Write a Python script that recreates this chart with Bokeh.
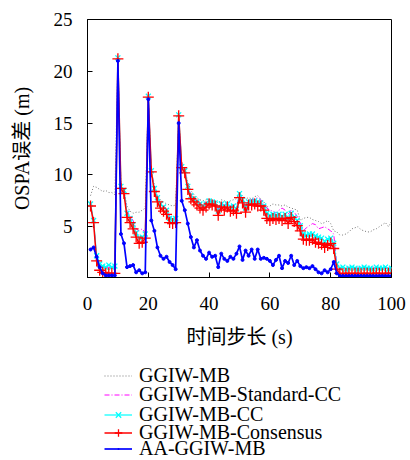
from bokeh.plotting import figure
from bokeh.layouts import column
from bokeh.models import Range1d, FixedTicker, Legend, LegendItem
from bokeh.embed import file_html
from bokeh.resources import INLINE

steps = list(range(1, 101))

ggiw_mb = [8.0, 8.9, 8.8, 8.6, 8.4, 8.5, 8.3, 8.3, 8.1, 21.0,
           8.7, 8.5, 7.0, 6.5, 6.3, 6.4, 6.4, 6.6, 6.8, 17.3,
           10.3, 9.0, 8.0, 7.6, 7.4, 7.2, 7.1, 7.0, 7.1, 15.5,
           10.9, 10.5, 9.3, 8.5, 8.1, 7.8, 7.6, 7.5, 7.6, 7.7,
           7.6, 7.5, 7.3, 7.6, 7.5, 7.4, 7.5, 7.6, 7.7, 8.3,
           8.0, 7.7, 7.8, 7.7, 7.9, 8.0, 7.7, 7.4, 6.9, 7.0,
           7.2, 7.1, 7.1, 7.0, 7.1, 6.9, 6.8, 6.7, 6.6, 5.6,
           5.8, 5.9, 5.9, 5.7, 5.6, 5.5, 5.3, 5.4, 5.6, 5.3,
           4.6, 4.5, 4.2, 4.2, 4.3, 4.5, 4.8, 4.9, 5.0, 4.7,
           4.6, 4.5, 4.5, 4.7, 4.8, 5.0, 5.2, 5.4, 5.0, 5.5]

standard_cc = [7.1, 5.5, 2.0, 1.2, 1.0, 1.0, 1.1, 1.0, 1.0, 21.2,
               8.8, 8.4, 6.5, 6.0, 5.6, 4.8, 4.6, 4.8, 4.4, 17.5,
               10.4, 8.8, 7.9, 7.3, 7.0, 6.7, 6.0, 5.8, 5.8, 15.7,
               10.9, 10.5, 9.0, 8.1, 7.8, 7.5, 7.3, 7.1, 7.3, 7.6,
               7.5, 7.4, 6.7, 7.3, 7.1, 7.3, 7.0, 7.1, 6.9, 8.1,
               7.7, 7.0, 7.5, 7.6, 7.7, 7.8, 7.6, 7.2, 6.8, 6.6,
               6.5, 6.3, 6.6, 6.8, 6.6, 6.2, 6.6, 6.4, 6.0, 5.4,
               4.6, 4.9, 5.1, 5.3, 5.2, 4.8, 4.9, 5.0, 4.8, 4.6,
               4.3, 1.4, 1.0, 1.0, 1.0, 1.1, 1.0, 1.0, 1.0, 1.1,
               1.0, 1.0, 1.0, 1.1, 1.0, 1.0, 1.0, 1.1, 1.0, 1.0]

cc = [7.2, 5.6, 2.2, 1.4, 1.2, 1.1, 1.3, 1.1, 1.2, 21.3,
      8.9, 8.5, 6.3, 5.8, 5.2, 4.4, 3.9, 4.0, 4.3, 17.6,
      10.4, 8.7, 7.8, 7.2, 6.9, 6.6, 5.8, 5.7, 5.8, 15.8,
      10.8, 10.4, 8.9, 8.0, 7.7, 7.4, 7.2, 7.0, 7.2, 7.5,
      7.4, 7.3, 6.5, 7.2, 7.0, 7.2, 6.9, 7.0, 6.7, 8.2,
      7.6, 6.8, 7.4, 7.4, 7.5, 7.4, 7.3, 7.0, 6.3, 6.1,
      6.2, 6.1, 6.2, 6.0, 6.2, 5.8, 6.3, 5.9, 5.6, 5.1,
      4.3, 4.2, 4.3, 4.3, 4.1, 4.0, 3.9, 3.6, 3.8, 3.9,
      3.4, 1.4, 1.0, 1.1, 0.9, 1.0, 1.1, 1.0, 0.9, 1.0,
      1.1, 1.0, 1.0, 0.9, 1.1, 1.0, 1.0, 1.1, 0.9, 1.0]

consensus = [7.0, 5.4, 1.7, 0.8, 0.6, 0.5, 0.5, 0.5, 0.5, 21.2,
             8.7, 8.2, 5.9, 5.4, 4.8, 4.0, 3.4, 3.5, 3.9, 17.5,
             10.3, 8.4, 7.4, 6.8, 6.5, 6.2, 5.4, 5.3, 5.4, 15.7,
             10.7, 10.2, 8.6, 7.7, 7.4, 7.1, 6.8, 6.6, 6.9, 7.2,
             7.1, 7.0, 6.1, 6.9, 6.6, 6.9, 6.5, 6.6, 6.3, 7.8,
             7.3, 6.4, 7.1, 7.1, 7.2, 7.0, 7.0, 6.6, 5.8, 5.6,
             5.8, 5.7, 5.8, 5.6, 5.8, 5.3, 5.9, 5.5, 5.1, 4.6,
             3.8, 3.7, 3.7, 3.8, 3.5, 3.4, 3.3, 3.0, 3.2, 3.4,
             2.9, 0.9, 0.5, 0.45, 0.5, 0.5, 0.45, 0.5, 0.5, 0.45,
             0.5, 0.5, 0.45, 0.5, 0.5, 0.5, 0.45, 0.5, 0.5, 0.5]

aa_ggiw_mb = [2.8, 3.0, 2.1, 1.1, 0.5, 0.3, 0.3, 0.3, 0.3, 21.0,
              4.3, 3.4, 1.1, 1.2, 1.3, 0.6, 0.8, 0.5, 0.6, 17.3,
              5.6, 4.6, 3.0, 2.2, 1.9, 2.1, 1.6, 1.3, 0.9, 15.0,
              7.5, 6.6, 5.3, 4.0, 3.0, 3.7, 2.7, 2.2, 1.9, 2.5,
              2.1, 2.2, 1.1, 2.4, 1.9, 1.7, 2.1, 1.9, 2.4, 3.1,
              1.8, 2.7, 2.2, 2.8, 1.9, 2.8, 1.9, 2.0, 1.9, 1.7,
              1.3, 1.8, 2.2, 1.0, 1.7, 1.5, 2.2, 1.3, 1.7, 1.2,
              1.0, 1.1, 1.0, 1.2, 0.9, 0.6, 0.5, 0.8, 0.6, 0.9,
              1.6, 0.5, 0.25, 0.25, 0.25, 0.25, 0.25, 0.25, 0.25, 0.25,
              0.25, 0.25, 0.25, 0.25, 0.25, 0.25, 0.25, 0.25, 0.25, 0.25]

labels = ["GGIW-MB", "GGIW-MB-Standard-CC", "GGIW-MB-CC",
          "GGIW-MB-Consensus", "AA-GGIW-MB"]
x_ticks = [0, 20, 40, 60, 80, 100]
y_ticks = [5, 10, 15, 20, 25]

FONT = "'Liberation Serif', 'Noto Sans CJK SC', serif"

styles = [
    dict(line=dict(line_color="#777777", line_width=1, line_dash="1 2"), marker=None, legend_marker=None),
    dict(line=dict(line_color="#ff00ff", line_width=1, line_dash="5 2 1 2"), marker=None, legend_marker=None),
    dict(line=dict(line_color="#00ffff", line_width=1.2),
         marker=dict(marker="x", size=7, line_color="#00ffff", line_width=1.3),
         legend_marker=dict(marker="x", size=7, line_color="#00ffff", line_width=1.3)),
    dict(line=dict(line_color="#ff0000", line_width=1.5),
         marker=dict(marker="cross", size=11, line_color="#ff0000", line_width=1.3),
         legend_marker=dict(marker="cross", size=11, line_color="#ff0000", line_width=1.3)),
    dict(line=dict(line_color="#0000ff", line_width=1.7),
         marker=dict(marker="circle", size=3, line_color="#0000ff", fill_color="#0000ff"),
         legend_marker=dict(marker="dot", size=7, line_color="#0000ff", fill_color="#0000ff")),
]
series = [ggiw_mb, standard_cc, cc, consensus, aa_ggiw_mb]

# ---- main plot ----
p = figure(width=410, height=355, output_backend="svg", toolbar_location=None,
           x_range=Range1d(0, 100), y_range=Range1d(0.1, 25),
           min_border_left=87, min_border_right=19, min_border_top=19,
           min_border_bottom=78)
p.title.visible = False
p.grid.visible = False
p.outline_line_color = "black"
p.outline_line_width = 1
p.outline_line_alpha = 1

for ax in (p.xaxis[0], p.yaxis[0]):
    ax.major_tick_in = 5
    ax.major_tick_out = 0
    ax.minor_tick_line_color = None
    ax.axis_line_color = "black"
    ax.major_tick_line_color = "black"
    ax.major_label_text_font = FONT
    ax.major_label_text_font_size = "19px"
    ax.major_label_text_color = "black"
    ax.axis_label_text_font = FONT
    ax.axis_label_text_font_size = "20px"
    ax.axis_label_text_font_style = "normal"
    ax.axis_label_text_color = "black"

p.xaxis.ticker = FixedTicker(ticks=x_ticks)
p.yaxis.ticker = FixedTicker(ticks=y_ticks)
p.xaxis.major_label_standoff = 19
p.yaxis.major_label_standoff = 15
p.xaxis.axis_label = "时间步长 (s)"
p.yaxis.axis_label = "OSPA误差 (m)"
p.xaxis.axis_label_standoff = 13
p.yaxis.axis_label_standoff = 18

for vals, st in zip(series, styles):
    p.line(steps, vals, **st["line"])
    if st["marker"] is not None:
        p.scatter(steps, vals, **st["marker"])

# ---- legend panel (below the plot); its frame is aligned with the plot's ----
q = figure(width=410, height=105, output_backend="svg", toolbar_location=None,
           x_range=Range1d(0, 100), y_range=Range1d(1000, 1001),
           min_border=0, x_axis_location=None, y_axis_location=None)
q.title.visible = False
q.grid.visible = False
q.outline_line_color = None

# one single-row legend per entry, so the row spacing matches the reference
row_offsets = [73, 54, 34, 16, 0]
for lab, st, vals, off in zip(labels, styles, series, row_offsets):
    rs = [q.line(steps, vals, **st["line"])]   # out of view: only drives the legend glyph
    if st["legend_marker"] is not None:
        rs.append(q.scatter(steps, vals, **st["legend_marker"]))
    lg = Legend(items=[LegendItem(label=lab, renderers=rs)], location=(17, off),
                orientation="vertical", glyph_width=28, glyph_height=19,
                label_height=19, label_standoff=7, spacing=0, padding=0, margin=0,
                label_text_font=FONT, label_text_font_size="20px",
                label_text_color="black",
                background_fill_alpha=0, border_line_alpha=0)
    q.add_layout(lg, "center")

layout = column(p, q, spacing=0)
open("out.html", "w").write(file_html(layout, INLINE))
